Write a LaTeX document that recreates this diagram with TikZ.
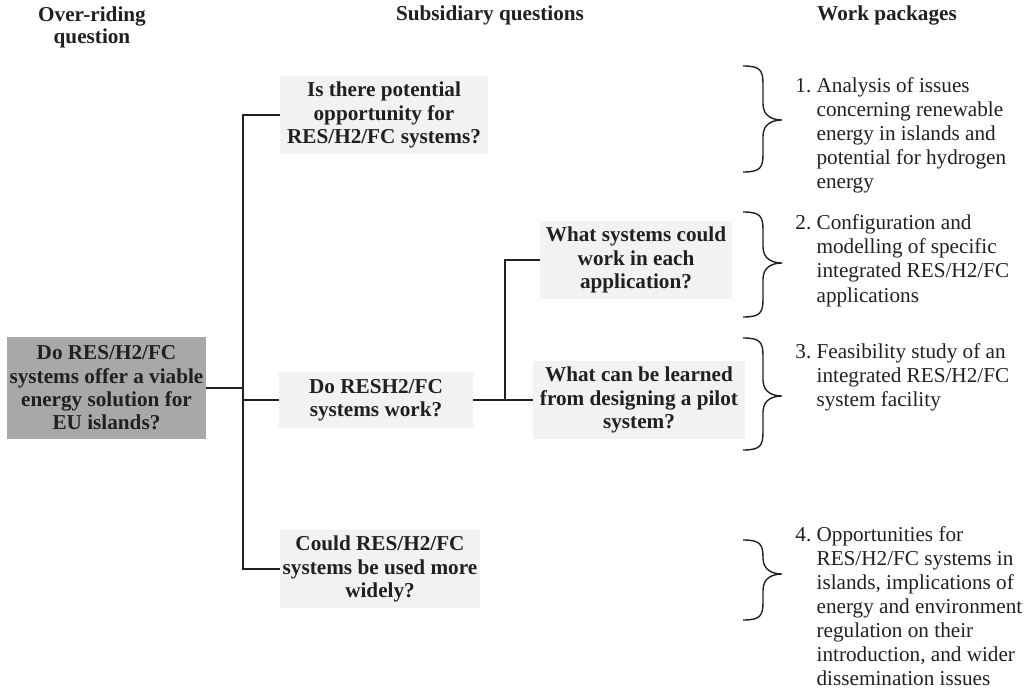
\documentclass[tikz,border=0pt]{standalone}
\usepackage{fontspec}
\setmainfont{Liberation Serif}
\usepackage{tikz}
\usetikzlibrary{calc, positioning}
\usepackage{xcolor}
\definecolor{mainfill}{RGB}{168,168,168}
\definecolor{qfill}{RGB}{241,242,242}
\definecolor{inkc}{RGB}{35,31,32}
\newcommand{\qfont}{\fontsize{10.6}{11.7}\selectfont\bfseries}
\newcommand{\headfont}{\fontsize{10.6}{11}\selectfont\bfseries}
\newcommand{\wpfont}{\fontsize{10.6}{12}\selectfont}
\tikzset{
    qbox/.style={fill=qfill, text=inkc, font=\qfont, align=center, inner sep=0pt},
    mainbox/.style={qbox, fill=mainfill},
    head/.style={font=\headfont, text=inkc, align=center, inner sep=0pt},
    link/.style={draw=inkc, line width=1pt},
    bracestyle/.style={draw=inkc, line width=0.7pt},
    wptext/.style={font=\wpfont, text=inkc, inner sep=0pt, anchor=base west}
}
\newcommand{\drawWP}[4]{
    \node[wptext] (#1) at (795,#2) {#3.\ \begin{tabular}[t]{@{}l@{}}#4\end{tabular}};
}
\newcommand{\drawBrace}[3]{
    \draw[bracestyle] (743,#1) .. controls (760,#1) and (763,{#1+4}) .. (763,{#1+18})
        -- (763,{#2-16}) .. controls (763,{#2-3}) and (774,#2) .. (782,#2)
        .. controls (774,#2) and (763,{#2+3}) .. (763,{#2+16})
        -- (763,{#3-18}) .. controls (763,{#3-4}) and (760,#3) .. (743,#3);
}

\begin{document}
\begin{tikzpicture}[x=0.5pt, y=-0.5pt]
    \useasboundingbox (0,0) rectangle (1036,689);

    %Headings
        \node[head, anchor=north] (hover) at (92,6) {Over-riding\\question};
        \node[head, anchor=base] (hsub) at (490,21) {Subsidiary questions};
        \node[head, anchor=base] (hwork) at (887,21) {Work packages};

    % Questions
        \node[mainbox, minimum width=99.5pt, minimum height=51pt] (main) at (106.5,388)
            {Do RES/H2/FC\\systems offer a viable\\energy solution for\\EU islands?};
        \node[qbox, minimum width=104pt, minimum height=39pt] (q1) at (384,115)
            {Is there potential\\opportunity for\\RES/H2/FC systems?};
        \node[qbox, minimum width=97pt, minimum height=28pt] (q2) at (376,400)
            {Do RESH2/FC\\systems work?};
        \node[qbox, minimum width=100pt, minimum height=39pt] (q3) at (380,569)
            {Could RES/H2/FC\\systems be used more\\widely?};
        \node[qbox, minimum width=96pt, minimum height=39pt] (q2a) at (636,260)
            {What systems could\\work in each\\application?};
        \node[qbox, minimum width=106pt, minimum height=39pt] (q2b) at (639,400)
            {What can be learned\\from designing a pilot\\system?};

    % Links
        \draw[link] (q1.west) -- ++(-37,0) coordinate (trunk) |- (q3.west);
        \draw[link] (main.east) -- (main.east -| trunk);
        \draw[link] (trunk |- q2.west) -- (q2.west);
        \draw[link] (q2a.west) -- ++(-35,0) coordinate (trunkb) |- (q2b.west);
        \draw[link] (q2.east) -- (q2.east -| trunkb);

    % Braces
        \drawBrace{66}{120}{172}
        \drawBrace{212}{263}{317}
        \drawBrace{338}{396}{450}
        \drawBrace{540}{574}{620}

    % Work packages
        \drawWP{wp1}{93}{1}{Analysis of issues\\concerning renewable\\energy in islands and\\potential for hydrogen\\energy}
        \drawWP{wp2}{230}{2}{Configuration and\\modelling of specific\\integrated RES/H2/FC\\applications}
        \drawWP{wp3}{358}{3}{Feasibility study of an\\integrated RES/H2/FC\\system facility}
        \drawWP{wp4}{541}{4}{Opportunities for\\RES/H2/FC systems in\\islands, implications of\\energy and environment\\regulation on their\\introduction, and wider\\dissemination issues}
\end{tikzpicture}
\end{document}
